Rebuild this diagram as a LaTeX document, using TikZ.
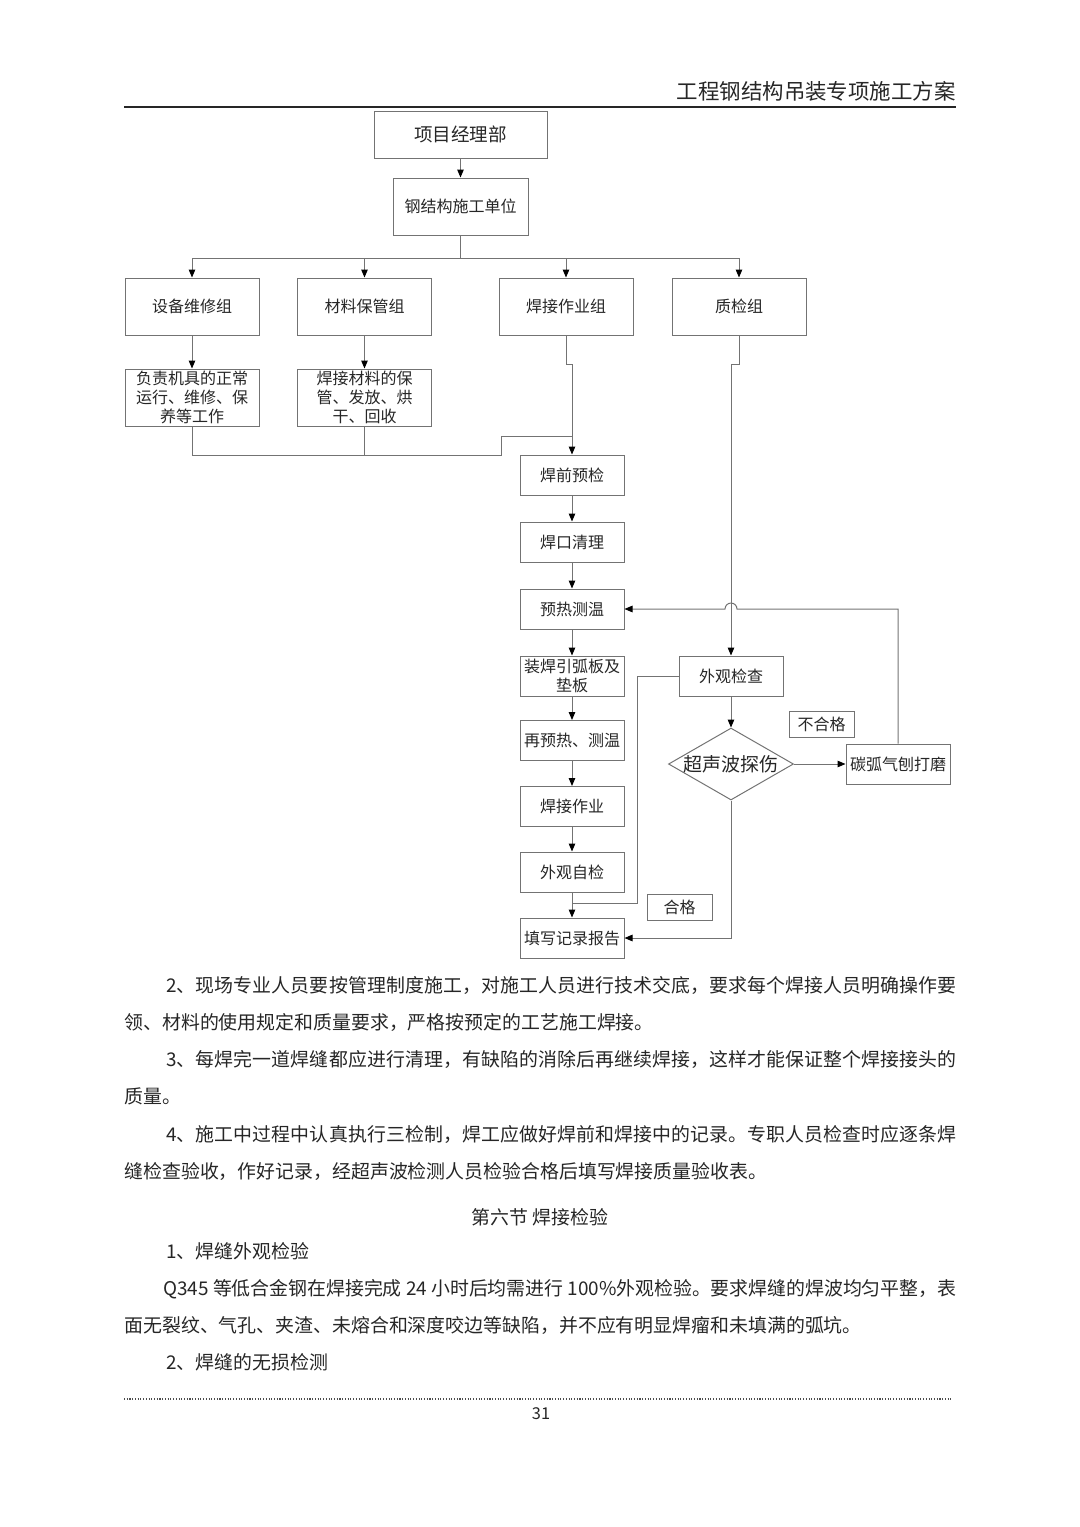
\documentclass[tikz,border=0pt]{standalone}
\usepackage{fontspec}
\setmainfont{Noto Sans CJK SC}
\usetikzlibrary{arrows.meta,shapes.geometric}
\XeTeXlinebreaklocale "zh"
\XeTeXlinebreakskip=0pt plus 1pt minus 0.5pt

\definecolor{linegray}{gray}{0.45}
\definecolor{textgray}{gray}{0.15}
\newcommand{\fullline}[2]{\parbox[t]{#1}{\parfillskip=0pt #2}}

\tikzset{
  box/.style={draw=linegray, line width=0.55pt, inner sep=0pt, text=textgray,
    font=\fontsize{8.8pt}{10.45pt}\selectfont, align=center},
  grpbox/.style={box, minimum width=73.7pt, minimum height=31.35pt},
  stepbox/.style={box, minimum width=57.2pt, minimum height=22pt},
  tagbox/.style={box, minimum width=35.75pt, minimum height=14.3pt},
  conn/.style={draw=linegray, line width=0.55pt},
  arr/.style={conn, -{Triangle[length=4.4pt, width=3.6pt, color=black]}},
  body/.style={anchor=base west, inner sep=0pt, text=textgray,
    font=\fontsize{10.4pt}{12pt}\selectfont},
}

\begin{document}
\begin{tikzpicture}[x=0.55pt, y=-0.55pt]
\useasboundingbox (0,0) rectangle (1080,1527);

% Cabecalho
\node[anchor=base east, inner sep=0pt, text=textgray, font=\fontsize{11.8pt}{12pt}\selectfont] (titulo) at (956,99) {工程钢结构吊装专项施工方案};
\draw[line width=1.1pt, black!85] (124,107) -- (956,107);

% Topo
\node[box, minimum width=95.15pt, minimum height=25.85pt, font=\fontsize{10.2pt}{12pt}\selectfont] (pm) at (460.5,134.5) {项目经理部};
\node[box, minimum width=74.25pt, minimum height=31.35pt] (unit) at (460.5,206.5) {钢结构施工单位};
\draw[arr] (pm) -- (unit);
\coordinate (bus) at (460.5,258);

% Grupos
\foreach \g/\txt/\x in {g1/设备维修组/192, g2/材料保管组/364.5, g3/焊接作业组/566, g4/质检组/739}{
  \node[grpbox] (\g) at (\x,306.5) {\txt};
  \draw[arr] (unit.south) -- (bus) -| (\g.north);
}

\node[grpbox] (d1) at (192,397.5) {负责机具的正常\\运行、维修、保\\养等工作};
\node[grpbox] (d2) at (364.5,397.5) {焊接材料的保\\管、发放、烘\\干、回收};
\draw[arr] (g1) -- (d1);
\draw[arr] (g2) -- (d2);

% Fluxo de soldagem
\foreach \txt/\y [count=\i] in {焊前预检/475, 焊口清理/542, 预热测温/609, {装焊引弧板及\\垫板}/676, 再预热、测温/740.5, 焊接作业/806.5, 外观自检/872, 填写记录报告/938}
  \node[stepbox] (s\i) at (572,\y) {\txt};
\foreach \i [count=\j from 2] in {1,...,7}
  \draw[arr] (s\i) -- (s\j);

\coordinate (mj) at (572,436);
\draw[conn] (d1.south) |- (501,455) |- (mj);
\draw[conn] (d2.south) -- ++(0,29);
\draw[arr] (g3.south) -- ++(0,29) -| (s1.north);

% Inspecao
\node[stepbox] (vis) at (731,676) {外观检查};
\node[diamond, draw=linegray, line width=0.55pt, minimum width=68.75pt, minimum height=39.6pt, inner sep=0pt] (ut) at (731,764) {};
\node[inner sep=0pt, text=textgray, font=\fontsize{10.45pt}{12pt}\selectfont] (utt) at (ut.center) {超声波探伤};
\node[stepbox] (grind) at (898,764) {碳弧气刨打磨};
\node[tagbox] (nok) at (821.5,724) {不合格};
\node[tagbox] (ok) at (679.5,907) {合格};

\draw[arr] (g4.south) -- ++(0,29) -| (vis.north);
\draw[arr] (vis) -- (ut);
\draw[arr] (ut.east) -- (grind.west);
\draw[arr] (grind.north) |- (737,609) arc[start angle=0, end angle=-180, radius=6] -- (s3.east);
\coordinate (sj) at (572,903);
\draw[conn] (vis.west) -| (637,903) -- (sj);
\draw[arr] (ut.south) |- (s8.east);

% Texto
\node[body] (p2a) at (166,992) {\fullline{434.5pt}{2、现场专业人员要按管理制度施工，对施工人员进行技术交底，要求每个焊接人员明确操作要}};
\node[body] (p2b) at (124,1029) {领、材料的使用规定和质量要求，严格按预定的工艺施工焊接。};
\node[body] (p3a) at (166,1066) {\fullline{434.5pt}{3、每焊完一道焊缝都应进行清理，有缺陷的消除后再继续焊接，这样才能保证整个焊接接头的}};
\node[body] (p3b) at (124,1103) {质量。};
\node[body] (p4a) at (166,1141) {\fullline{434.5pt}{4、施工中过程中认真执行三检制，焊工应做好焊前和焊接中的记录。专职人员检查时应逐条焊}};
\node[body] (p4b) at (124,1178) {缝检查验收，作好记录，经超声波检测人员检验合格后填写焊接质量验收表。};
\node[body, anchor=base] (secao) at (540,1224) {第六节 焊接检验};
\node[body] (q1) at (166,1258) {1、焊缝外观检验};
\node[body] (q2a) at (163,1295) {\fullline{436.15pt}{Q345 等低合金钢在焊接完成 24 小时后均需进行 100\%外观检验。要求焊缝的焊波均匀平整，表}};
\node[body] (q2b) at (124,1332) {面无裂纹、气孔、夹渣、未熔合和深度咬边等缺陷，并不应有明显焊瘤和未填满的弧坑。};
\node[body] (q3) at (166,1369) {2、焊缝的无损检测};

% Rodape
\draw[line width=0.7pt, dash pattern=on 0.6pt off 0.9pt, black!70] (124,1399) -- (952,1399);
\node[inner sep=0pt, text=textgray, font=\fontsize{9pt}{10pt}\selectfont] (pg) at (541,1414) {31};

\end{tikzpicture}
\end{document}
